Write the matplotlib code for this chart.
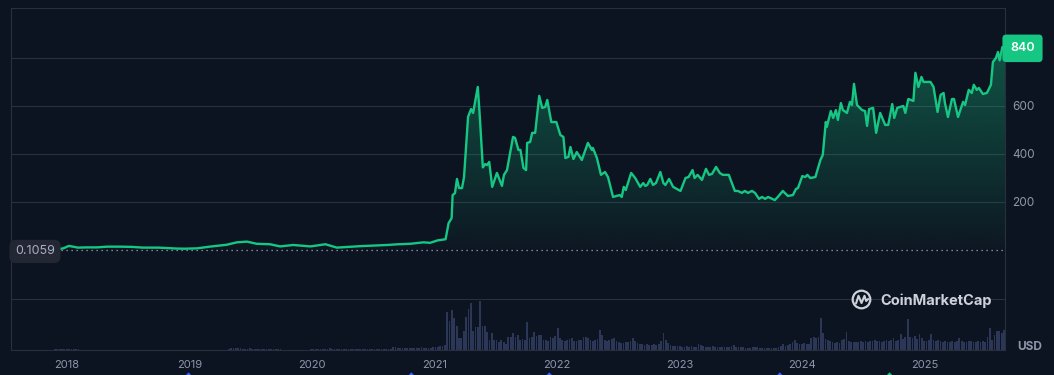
import numpy as np
import pandas as pd
import matplotlib
matplotlib.use('Agg')
import matplotlib.pyplot as plt
import matplotlib.dates as mdates
import matplotlib.transforms as mtransforms
from matplotlib.patches import Circle
from matplotlib.colors import to_rgb

plt.rcParams['font.family'] = ['Inter', 'DejaVu Sans']

# ---------------- data ----------------
price_dates = [
    '2017-07-19', '2017-08-10', '2017-09-01', '2017-10-01', '2017-11-01', '2017-11-25', '2017-12-04', '2017-12-22',
    '2018-01-07', '2018-01-20', '2018-02-03', '2018-03-01', '2018-04-01', '2018-05-01', '2018-06-09', '2018-07-15',
    '2018-08-16', '2018-10-01', '2018-11-26', '2018-12-20',
    '2019-01-25', '2019-03-03', '2019-04-23', '2019-05-23', '2019-06-22', '2019-07-21', '2019-08-30', '2019-09-29',
    '2019-11-07', '2019-12-28',
    '2020-02-11', '2020-03-16', '2020-05-24', '2020-08-13', '2020-09-15', '2020-10-21', '2020-11-29', '2020-12-19',
    '2021-01-10', '2021-02-03', '2021-02-12', '2021-02-21', '2021-02-24', '2021-03-03', '2021-03-09', '2021-03-15',
    '2021-03-24', '2021-03-30', '2021-04-11', '2021-04-20', '2021-04-26', '2021-05-10', '2021-05-16', '2021-05-25',
    '2021-06-01', '2021-06-07', '2021-06-13', '2021-06-22', '2021-07-06', '2021-07-21', '2021-07-27', '2021-08-05',
    '2021-08-23', '2021-08-29', '2021-09-08', '2021-09-14', '2021-09-23', '2021-10-01', '2021-10-04', '2021-10-13',
    '2021-10-19', '2021-10-28', '2021-11-09', '2021-11-18', '2021-11-27', '2021-12-03', '2021-12-15', '2021-12-30',
    '2022-01-11', '2022-01-20', '2022-01-26', '2022-02-04', '2022-02-10', '2022-02-19', '2022-03-01', '2022-03-16',
    '2022-04-03', '2022-04-15', '2022-04-18', '2022-04-30', '2022-05-12', '2022-05-24', '2022-06-02', '2022-06-17',
    '2022-07-07', '2022-07-13', '2022-07-19', '2022-07-25', '2022-08-10', '2022-08-22', '2022-09-06', '2022-09-15',
    '2022-09-21', '2022-09-27', '2022-10-06', '2022-10-14', '2022-10-23', '2022-11-05', '2022-11-14', '2022-11-20',
    '2022-12-01', '2022-12-13',
    '2023-01-04', '2023-01-19', '2023-01-28', '2023-02-09', '2023-02-15', '2023-02-24', '2023-03-09', '2023-03-21',
    '2023-03-30', '2023-04-08', '2023-04-20', '2023-05-01', '2023-05-10', '2023-05-28', '2023-06-15', '2023-06-24',
    '2023-07-06', '2023-07-15', '2023-07-24', '2023-08-05', '2023-08-14', '2023-08-26', '2023-09-04', '2023-09-13',
    '2023-09-22', '2023-10-12', '2023-10-21', '2023-11-05', '2023-11-20', '2023-12-05', '2023-12-14', '2023-12-20',
    '2024-01-02', '2024-01-11', '2024-01-17', '2024-01-26', '2024-02-10', '2024-02-25', '2024-03-03', '2024-03-12',
    '2024-03-15', '2024-03-27', '2024-04-03', '2024-04-11', '2024-04-17', '2024-04-26', '2024-05-02', '2024-05-14',
    '2024-05-23', '2024-05-29', '2024-06-04', '2024-06-13', '2024-06-28', '2024-07-07', '2024-07-13', '2024-07-19',
    '2024-07-31', '2024-08-09', '2024-08-21', '2024-09-05', '2024-09-14', '2024-09-26', '2024-10-02', '2024-10-11',
    '2024-10-29', '2024-11-04', '2024-11-13', '2024-11-28', '2024-12-04', '2024-12-13', '2024-12-22', '2024-12-28',
    '2025-01-18', '2025-01-27', '2025-02-08', '2025-02-17', '2025-02-26', '2025-03-02', '2025-03-11', '2025-03-23',
    '2025-03-29', '2025-04-10', '2025-04-25', '2025-05-01', '2025-05-12', '2025-05-21', '2025-05-27', '2025-06-05',
    '2025-06-11', '2025-06-23', '2025-07-05', '2025-07-17', '2025-07-23', '2025-08-01', '2025-08-07', '2025-08-12',
    '2025-08-20', '2025-08-28',
]
price_values = [
    0.1059, 1.0, 1.8, 1.4, 1.8, 2.5, 3.0, 7.0,
    17, 14, 10, 11, 11, 14, 14, 13,
    10, 10, 6, 5.5,
    7, 14, 22, 32, 35, 26, 24, 15,
    21, 15,
    24, 10, 16, 21, 24, 26, 32, 30,
    40, 45, 112, 133, 229, 237, 296, 258,
    258, 304, 555, 587, 571, 679, 555, 344,
    358, 354, 367, 263, 321, 267, 313, 333,
    471, 467, 417, 417, 342, 333, 446, 450,
    488, 488, 642, 592, 596, 625, 533, 533,
    479, 471, 383, 388, 429, 379, 408, 375,
    446, 417, 425, 383, 313, 325, 304, 221,
    229, 221, 263, 250, 321, 300, 263, 279,
    267, 271, 296, 271, 279, 325, 279, 271,
    296, 263,
    246, 300, 304, 333, 300, 313, 292, 338,
    313, 317, 346, 321, 313, 313, 246, 246,
    238, 246, 238, 246, 238, 213, 221, 213,
    221, 208, 221, 246, 225, 229, 254, 258,
    308, 304, 313, 300, 304, 375, 396, 533,
    513, 579, 550, 583, 542, 612, 583, 571,
    617, 604, 692, 604, 583, 579, 517, 587,
    592, 488, 571, 521, 521, 608, 550, 592,
    600, 571, 629, 621, 738, 679, 721, 700,
    700, 679, 575, 646, 654, 612, 554, 629,
    629, 554, 617, 604, 667, 654, 688, 667,
    675, 650, 654, 688, 783, 800, 825, 790,
    845, 840,
]

# weekly trading volume (relative units), one list per year with its first week
vol_2017 = [0.3, 0.4, 0.3, 0.3, 0.3, 0.2, 0.2, 0.2, 0.3, 0.3, 0.3, 0.2, 0.2, 0.2, 0.3, 0.3, 0.3, 0.4, 0.5, 0.5,
            0.6, 0.6, 0.7]
vol_2018 = [1.0, 1.2, 0.8, 0.6, 0.5, 0.5, 0.4, 0.4, 0.4, 0.4, 0.4, 0.4, 0.4, 0.4, 0.3, 0.3, 0.3, 0.3, 0.3, 0.3,
            0.3, 0.3, 0.3, 0.3, 0.3, 0.3, 0.3, 0.3, 0.3, 0.2, 0.2, 0.2, 0.2, 0.2, 0.2, 0.2, 0.2, 0.2, 0.2, 0.2,
            0.2, 0.2, 0.2, 0.2, 0.2, 0.2, 0.2, 0.2, 0.2, 0.2, 0.2, 0.2]
vol_2019 = [0.3, 0.3, 0.3, 0.3, 0.3, 0.3, 0.3, 0.3, 0.3, 0.3, 0.3, 0.3, 0.3, 0.3, 0.3, 0.3, 0.3, 1.2, 1.6, 1.8,
            1.8, 1.7, 1.5, 1.2, 0.8, 0.7, 2.0, 0.7, 0.6, 0.8, 0.6, 0.5, 0.5, 0.5, 0.5, 1.0, 0.5, 1.0, 0.5, 0.5,
            0.4, 0.4, 0.4, 0.4, 0.4, 0.4, 0.4, 0.4, 0.4, 0.4, 0.4, 0.4]
vol_2020 = [0.5, 0.6, 0.8, 1.0, 1.2, 1.0, 1.4, 1.2, 1.5, 1.0, 1.2, 0.9, 0.8, 0.8, 0.9, 1.0, 1.1, 1.2, 1.0, 1.0,
            0.9, 0.8, 0.8, 0.7, 0.7, 0.8, 0.8, 0.9, 1.0, 0.9, 1.0, 1.0, 1.2, 1.0, 0.9, 2.5, 3.0, 1.8, 2.2, 2.0,
            1.5, 1.6, 1.8, 1.9, 1.5, 1.7, 2.0, 2.5, 2.2, 2.0, 2.4, 2.3]
vol_2021 = [3, 3, 3, 3.5, 4, 5, 37, 28, 39, 31, 24, 12, 12, 19, 32, 40, 46, 19, 23, 23,
            48, 24, 24, 18, 10, 17, 10, 10, 8, 10, 8, 6, 13, 13, 17, 13, 15, 10, 11, 10,
            27, 12, 13, 18, 14, 15, 15, 10, 10, 9, 13, 12, 14]
vol_2022 = [22, 12, 10, 9, 10, 11, 12, 9, 9, 10, 10, 13, 13, 12, 10, 9, 10, 11, 20, 15,
            10, 9, 10, 11, 12, 9, 8, 7, 7, 8, 8, 9, 12, 9, 7, 6, 6, 5, 6, 5,
            5, 6, 5, 6, 9, 17, 10, 7, 5, 4, 4, 4]
vol_2023 = [4, 3, 3, 4, 3, 4, 3, 3, 6, 5, 4, 3, 3, 3, 4, 3, 3, 3, 3, 3,
            3, 3, 4, 5, 3, 3, 3, 3, 2, 2, 2, 3, 3, 3, 2, 2, 2, 2, 2, 2,
            2, 2, 3, 4, 6, 4, 5, 6, 8, 10, 7, 6]
vol_2024 = [6, 7, 6, 6, 12, 13, 12, 13, 31, 17, 11, 10, 9, 8, 7, 8, 7, 10, 11, 18,
            9, 8, 8, 8, 8, 9, 8, 9, 8, 9, 9, 10, 9, 9, 8, 9, 10, 9, 10, 12,
            9, 10, 16, 11, 13, 30, 13, 12, 14, 11, 16, 12]
vol_2025 = [9, 9, 10, 16, 10, 9, 10, 9, 8, 9, 8, 8, 9, 8, 9, 12, 9, 8, 8, 9,
            9, 8, 8, 9, 8, 9, 8, 13, 22, 10, 15, 19, 19, 17, 20]
volume_years = [('2017-07-24', vol_2017), ('2018-01-01', vol_2018), ('2018-12-31', vol_2019),
                ('2019-12-30', vol_2020), ('2020-12-28', vol_2021), ('2022-01-03', vol_2022),
                ('2023-01-02', vol_2023), ('2024-01-01', vol_2024), ('2024-12-30', vol_2025)]

year_ticks = [2018, 2019, 2020, 2021, 2022, 2023, 2024, 2025]
price_ticks = [200, 400, 600, 800]
price_tick_labels = ['200', '400', '600', '']

event_dates = ['2018-12-30', '2020-10-24', '2021-12-09', '2023-10-27', '2024-09-18']
event_colors = ['#3861fb', '#3861fb', '#3861fb', '#3861fb', '#16c784']

# ---------------- style ----------------
BG = '#0d1421'
GRID = '#2a2f3d'
GREEN = '#16c784'
TXT = '#8f96aa'
BAR = '#2c3656'
WM = '#cdd1da'

W, H = 1054, 375
L, R = 11, 1005

fig = plt.figure(figsize=(W / 100, H / 100), dpi=100, facecolor=BG)
ax = fig.add_axes([L / W, (H - 299) / H, (R - L) / W, (299 - 8) / H])
axv = fig.add_axes([L / W, (H - 350) / H, (R - L) / W, (350 - 299) / H])

xnum = mdates.date2num(pd.to_datetime(price_dates))
yv = np.array(price_values, dtype=float)
x0, x1 = xnum[0], xnum[-1]

# ---- price panel ----
ax.set_facecolor(BG)
poly = ax.fill_between(xnum, yv, 0, facecolor='none', edgecolor='none')
n = 256
img = np.zeros((n, 1, 4))
img[:, 0, :3] = to_rgb(GREEN)
img[:, 0, 3] = np.linspace(0.36, 0.02, n)
im = ax.imshow(img, extent=[x0, x1, 0, yv.max()], aspect='auto', origin='upper', zorder=1)
im.set_clip_path(poly.get_paths()[0], transform=ax.transData)
ax.plot(xnum, yv, color=GREEN, lw=1.7, zorder=3, solid_joinstyle='round')
ax.axhline(yv[0], color='#a1a7bb', lw=0.9, ls=(0, (1, 3)), zorder=2)

ax.set_xlim(x0, x1)
ax.set_ylim(-204, 1008)
ax.yaxis.tick_right()
ax.set_yticks(price_ticks)
ax.set_yticklabels(price_tick_labels)
ax.tick_params(axis='y', length=0, pad=5, labelsize=8.5, labelcolor=TXT)
ax.tick_params(axis='x', bottom=False, labelbottom=False)
ax.grid(axis='y', color=GRID, lw=0.8)
ax.set_axisbelow(True)
for s in ['top', 'left', 'right']:
    ax.spines[s].set_color(GRID)
    ax.spines[s].set_linewidth(0.8)
ax.spines['bottom'].set_visible(False)

blend = mtransforms.blended_transform_factory(ax.transAxes, ax.transData)
ax.text((35 - L) / (R - L), yv[0] - 6, f'{yv[0]:.4f}', transform=blend, ha='center', va='center',
        fontsize=9, color='#a9afc2', zorder=6,
        bbox=dict(boxstyle='round,pad=0.45,rounding_size=0.5', fc='#222733', ec='none'))
ax.text((1022.5 - L) / (R - L), yv[-1], f'{yv[-1]:.0f}', transform=blend, ha='center', va='center',
        fontsize=9, color='white', fontweight='semibold', zorder=6, clip_on=False,
        bbox=dict(boxstyle='round,pad=0.62,rounding_size=0.3', fc=GREEN, ec='none'))

# ---- volume panel ----
axv.set_facecolor(BG)
for start, vals in volume_years:
    d = mdates.date2num(pd.date_range(start, periods=len(vals), freq='7D'))
    axv.bar(d, vals, width=5.2, color=BAR, align='center', linewidth=0)
axv.set_xlim(x0, x1)
axv.set_ylim(0, 50)
axv.set_yticks([])
axv.set_xticks(mdates.date2num(pd.to_datetime([f'{y}-01-01' for y in year_ticks])))
axv.set_xticklabels([str(y) for y in year_ticks])
axv.tick_params(axis='x', length=0, pad=7, labelsize=8, labelcolor=TXT)
for s in ['top', 'left', 'right', 'bottom']:
    axv.spines[s].set_color(GRID)
    axv.spines[s].set_linewidth(0.8)

vblend = mtransforms.blended_transform_factory(axv.transData, axv.transAxes)
axv.scatter(mdates.date2num(pd.to_datetime(event_dates)), [-0.54] * len(event_dates), transform=vblend,
            marker='D', s=28, c=event_colors, clip_on=False, zorder=5, linewidths=0)

fig.text(1029.5 / W, 1 - 347.5 / H, 'USD', ha='center', va='center', fontsize=8.5,
         fontweight='bold', color=TXT)

# ---- watermark overlay ----
ov = fig.add_axes([0, 0, 1, 1])
ov.set_xlim(0, W)
ov.set_ylim(H, 0)
ov.axis('off')
ov.patch.set_alpha(0)
ov.add_patch(Circle((861.5, 299.5), 8.8, fill=False, ec=WM, lw=1.6))
ov.plot([856, 858.5, 861.5, 864.5, 866.2, 868.2], [303.5, 295.8, 303, 295.8, 301, 299],
        color=WM, lw=1.5, solid_joinstyle='round', solid_capstyle='round')
ov.text(880.5, 300.5, 'CoinMarketCap', ha='left', va='center', fontsize=10.5, fontweight='bold', color=WM)

fig.savefig('out.png', dpi=100, facecolor=BG)
